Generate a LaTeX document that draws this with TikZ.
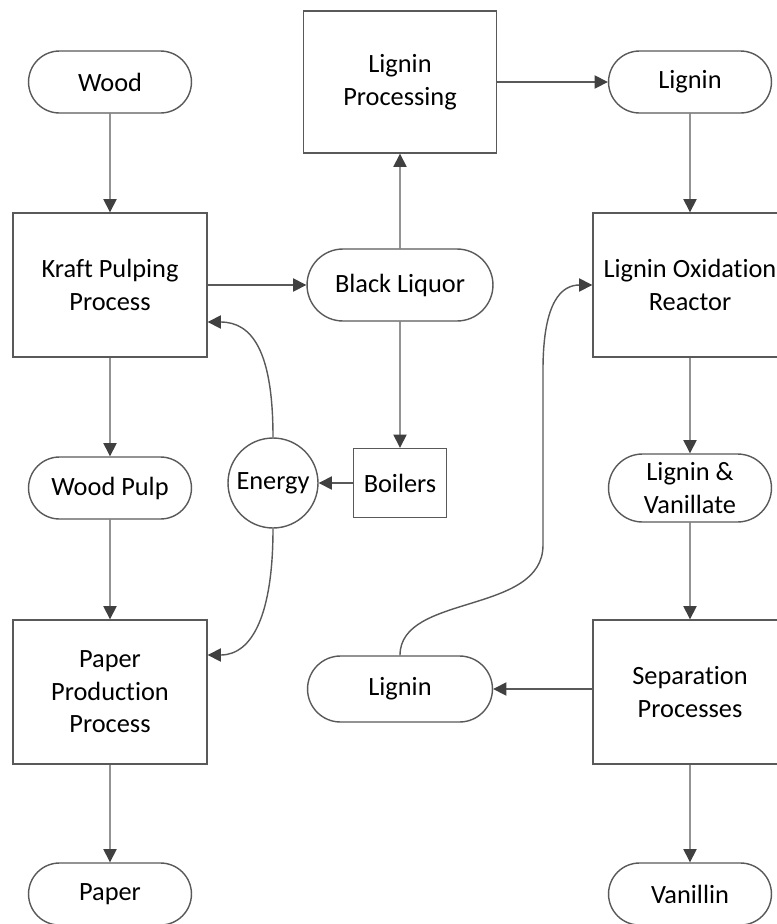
\documentclass[tikz,border=0pt]{standalone}
\usepackage{fontspec}
\setmainfont{Carlito}[Ligatures={CommonOff,ContextualOff,RareOff}]
\usetikzlibrary{arrows.meta,shapes.misc,calc}

\definecolor{edgegray}{RGB}{89,89,89}
\definecolor{tipgray}{RGB}{64,64,64}

\tikzset{
    proc/.style={draw=edgegray, line width=0.8pt, rectangle, align=center,
        minimum width=3.88cm, minimum height=2.88cm, inner sep=2pt,
        font=\fontsize{15}{18.5}\selectfont},
    term/.style={draw=edgegray, line width=0.8pt, rounded rectangle, align=center,
        minimum width=3.4cm, minimum height=1.24cm, inner sep=2pt,
        font=\fontsize{15}{18.5}\selectfont},
    flow/.style={draw=edgegray, line width=0.8pt,
        -{Triangle[length=7.5pt,width=7.5pt,color=tipgray]}}
}

\begin{document}
\begin{tikzpicture}[x=0.02cm, y=-0.02cm]
    \useasboundingbox (0,0) rectangle (777,924);
    \clip (0,0) rectangle (777,924);

    % Pulp and paper line
    \node[term] (wood) at (110,82) {Wood};
    \node[proc] (kraft) at (110,285) {Kraft Pulping\\Process};
    \node[term] (pulp) at (110,488) {Wood Pulp};
    \node[proc] (paperproc) at (110,692) {Paper\\Production\\Process};
    \node[term] (paper) at (110,894) {Paper};

    % Black liquor handling
    \node[proc, minimum width=3.86cm, minimum height=2.84cm] (ligproc) at (400,82) {Lignin\\Processing};
    \node[term, minimum width=3.86cm, minimum height=1.44cm] (liquor) at (400,285) {Black Liquor};
    \node[proc, minimum width=1.86cm, minimum height=1.38cm] (boilers) at (400,483) {Boilers};
    \node[circle, draw=edgegray, line width=0.8pt, minimum size=1.8cm, inner sep=0pt,
        font=\fontsize{15}{18.5}\selectfont] (energy) at (273,483) {Energy};
    \node[term, minimum width=3.84cm, minimum height=1.32cm] (lignin2) at (400,689) {Lignin};

    % Vanillin line
    \node[term] (lignin1) at (690,82) {Lignin};
    \node[proc] (reactor) at (690,285) {Lignin Oxidation\\Reactor};
    \node[term, minimum height=1.36cm] (lignvan) at (690,488) {Lignin \&\\Vanillate};
    \node[proc] (separation) at (690,692) {Separation\\Processes};
    \node[term] (vanillin) at (690,894) {Vanillin};

    % Straight flows
    \draw[flow] (wood) -- (kraft);
    \draw[flow] (kraft) -- (pulp);
    \draw[flow] (pulp) -- (paperproc);
    \draw[flow] (paperproc) -- (paper);
    \draw[flow] (kraft.east) -- (liquor.west);
    \draw[flow] (liquor) -- (ligproc);
    \draw[flow] (liquor) -- (boilers);
    \draw[flow] (boilers.west) -- (energy.east);
    \draw[flow] (ligproc.east) -- (lignin1.west);
    \draw[flow] (lignin1) -- (reactor);
    \draw[flow] (reactor) -- (lignvan);
    \draw[flow] (lignvan) -- (separation);
    \draw[flow] (separation) -- (vanillin);
    \draw[flow] (separation.west |- lignin2.east) -- (lignin2.east);

    % Energy back to the mill
    \draw[flow] (energy.north) .. controls +(0,-85) and +(45,0) .. ($(kraft.east)+(0,37)$);
    \draw[flow] (energy.south) .. controls +(0,85) and +(45,0) .. ($(paperproc.east)+(0,-37)$);

    % Recycled lignin
    \coordinate (bendlow) at (543,545);
    \coordinate (bendhigh) at (543,370);
    \draw[flow] (lignin2.north) .. controls +(0,-62) and +(0,70) .. (bendlow)
        -- (bendhigh) .. controls +(0,-70) and +(-30,0) .. (reactor.west);
\end{tikzpicture}
\end{document}
